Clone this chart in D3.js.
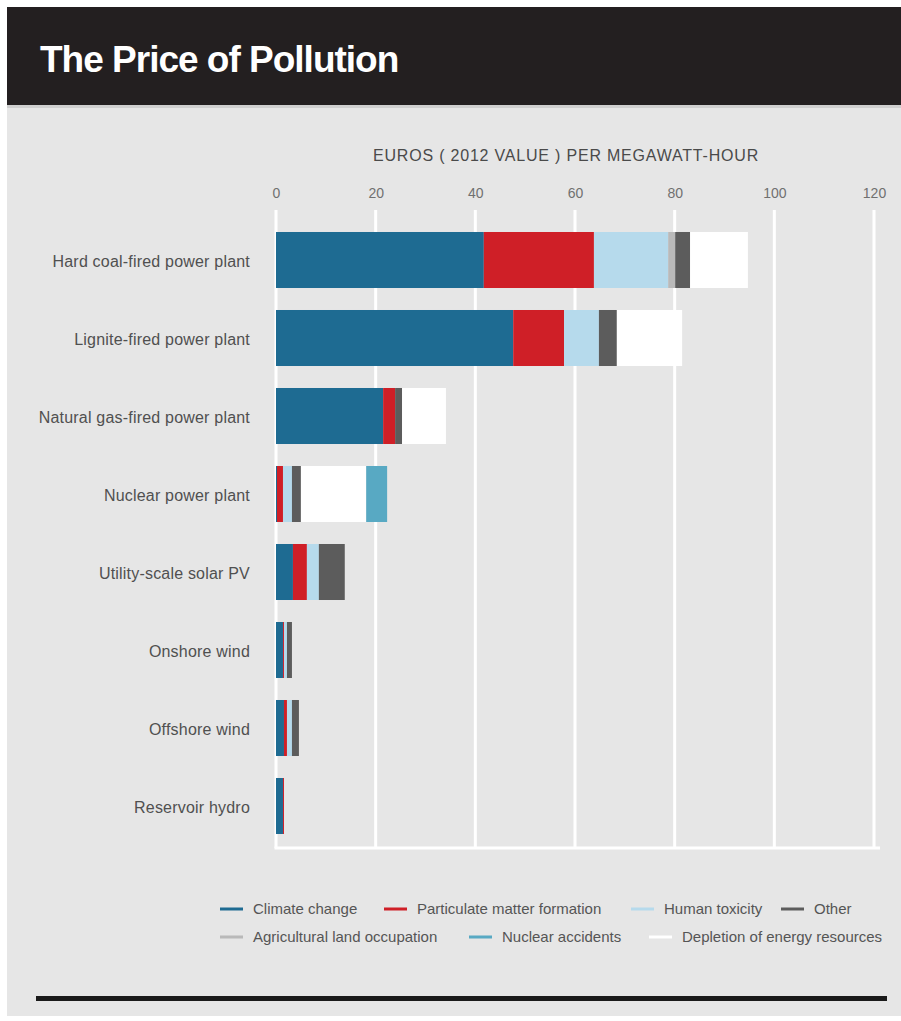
<!DOCTYPE html>
<html>
<head>
<meta charset="utf-8">
<script src="https://cdn.jsdelivr.net/npm/d3@7"></script>
<style>
  body { margin: 0; background: #fff; }
  svg { display: block; font-family: "Liberation Sans", Arial, sans-serif; }
</style>
</head>
<body>
<svg width="901" height="1021"></svg>
<script>
// chart data
const categories = [
  "Hard coal-fired power plant",
  "Lignite-fired power plant",
  "Natural gas-fired power plant",
  "Nuclear power plant",
  "Utility-scale solar PV",
  "Onshore wind",
  "Offshore wind",
  "Reservoir hydro"
];
const climateChange = [41.7, 47.6, 21.5, 0.2, 3.4, 1.4, 1.6, 1.4];
const particulate   = [22.1, 10.2, 2.4, 1.2, 2.8, 0.2, 0.6, 0.2];
const humanToxicity = [14.9, 7.0, 0, 1.8, 2.4, 0.6, 1.0, 0];
const agricultural  = [1.4, 0, 0, 0, 0, 0, 0, 0];
const other         = [3.0, 3.6, 1.4, 1.8, 5.2, 1.0, 1.4, 0];
const depletion     = [11.6, 13.1, 8.8, 13.1, 0, 0, 0, 0];
const nuclearAcc    = [0, 0, 0, 4.2, 0, 0, 0, 0];
const tickValues = [0, 20, 40, 60, 80, 100, 120];

// stacking order left to right
const keys = ["Climate change", "Particulate matter formation", "Human toxicity",
  "Agricultural land occupation", "Other", "Depletion of energy resources", "Nuclear accidents"];
const seriesValues = [climateChange, particulate, humanToxicity, agricultural, other, depletion, nuclearAcc];
const colors = {
  "Climate change": "#1e6b92",
  "Particulate matter formation": "#cf1f27",
  "Human toxicity": "#b6daec",
  "Agricultural land occupation": "#b9b9b9",
  "Other": "#5c5c5c",
  "Depletion of energy resources": "#ffffff",
  "Nuclear accidents": "#58a9c3"
};
// legend rows as they appear
const legendRows = [
  ["Climate change", "Particulate matter formation", "Human toxicity", "Other"],
  ["Agricultural land occupation", "Nuclear accidents", "Depletion of energy resources"]
];

let table = categories.map(function(c, i) {
  let row = { category: c };
  keys.forEach(function(k, j) { row[k] = seriesValues[j][i]; });
  return row;
});

let svg = d3.select("svg");

// page background + title bar
svg.append("rect").attr("x", 7).attr("y", 7).attr("width", 894).attr("height", 1009).attr("fill", "#e6e6e6");
svg.append("rect").attr("x", 7).attr("y", 7).attr("width", 894).attr("height", 98).attr("fill", "#231f20");
svg.append("rect").attr("x", 7).attr("y", 105).attr("width", 894).attr("height", 3).attr("fill", "#cfcfcf");
svg.append("text")
  .attr("x", 40).attr("y", 72)
  .attr("fill", "#fff")
  .style("font-size", "37px").style("font-weight", "bold").style("letter-spacing", "-1px")
  .text("The Price of Pollution");

let plotTop = 210, plotBottom = 848;

let x = d3.scaleLinear().domain([0, 120]).range([276, 874]);
let y = d3.scaleBand()
  .domain(categories)
  .range([221, 845])
  .paddingInner(0.282)
  .paddingOuter(0.141);

// white grid lines
svg.append("g").selectAll("line")
  .data(tickValues)
  .enter().append("line")
  .attr("x1", function(d) { return x(d); })
  .attr("x2", function(d) { return x(d); })
  .attr("y1", plotTop).attr("y2", plotBottom)
  .attr("stroke", "#fff").attr("stroke-width", 3);
svg.append("line")
  .attr("x1", x(0) - 1.5).attr("x2", x(120) + 6)
  .attr("y1", plotBottom).attr("y2", plotBottom)
  .attr("stroke", "#fff").attr("stroke-width", 3);

// top axis
let xAxis = d3.axisTop(x).tickValues(tickValues).tickSize(0).tickPadding(0);
let xGroup = svg.append("g").attr("transform", "translate(0,198)").call(xAxis);
xGroup.select(".domain").remove();
xGroup.selectAll("text")
  .attr("dy", 0)
  .attr("fill", "#707070")
  .style("font-size", "14px")
  .style("font-family", "Liberation Sans, Arial, sans-serif");

svg.append("text")
  .attr("x", 566).attr("y", 161)
  .attr("text-anchor", "middle")
  .attr("fill", "#4a4a4a")
  .style("font-size", "16px").style("letter-spacing", "0.8px")
  .text("EUROS ( 2012 VALUE ) PER MEGAWATT-HOUR");

// stacked bars
let stacked = d3.stack().keys(keys)(table);
let layers = svg.append("g").selectAll("g")
  .data(stacked)
  .enter().append("g")
  .attr("fill", function(d) { return colors[d.key]; });

layers.selectAll("rect")
  .data(function(d) { return d; })
  .enter().append("rect")
  .attr("x", function(d) { return x(d[0]); })
  .attr("y", function(d) { return y(d.data.category); })
  .attr("width", function(d) { return Math.max(0, x(d[1]) - x(d[0])); })
  .attr("height", y.bandwidth());

// category labels
svg.append("g").selectAll("text")
  .data(categories)
  .enter().append("text")
  .attr("x", 250)
  .attr("y", function(d) { return y(d) + y.bandwidth() / 2 + 6.5; })
  .attr("text-anchor", "end")
  .attr("fill", "#505050")
  .style("font-size", "16px").style("letter-spacing", "0.2px")
  .text(function(d) { return d; });

// legend
let legendX = [[220, 384, 631, 781], [220, 469, 649]];
let legendY = [909, 937];
legendRows.forEach(function(row, r) {
  let items = svg.append("g").selectAll("g")
    .data(row)
    .enter().append("g")
    .attr("transform", function(d, i) { return "translate(" + legendX[r][i] + "," + legendY[r] + ")"; });
  items.append("line")
    .attr("x1", 0).attr("x2", 23).attr("y1", 0).attr("y2", 0)
    .attr("stroke", function(d) { return colors[d]; })
    .attr("stroke-width", 3);
  items.append("text")
    .attr("x", 33).attr("y", 5)
    .attr("fill", "#555")
    .style("font-size", "15px").style("letter-spacing", "0px")
    .text(function(d) { return d; });
});

// black rule at the bottom
svg.append("rect").attr("x", 36).attr("y", 996).attr("width", 851).attr("height", 5).attr("fill", "#1a1a1a");
</script>
</body>
</html>
